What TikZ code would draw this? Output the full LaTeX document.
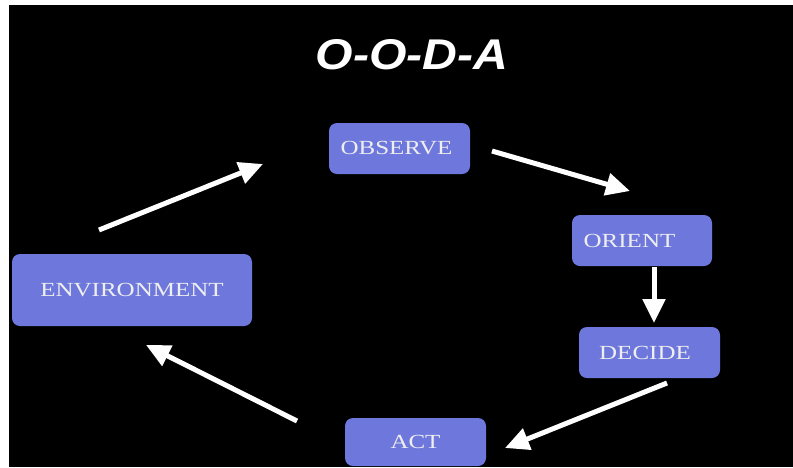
\documentclass[tikz,border=0pt]{standalone}
\usepackage{fontspec}
\usetikzlibrary{arrows.meta}
\newfontfamily\titlefont[FakeStretch=1.12]{Liberation Sans}
\newfontfamily\boxfont[FakeStretch=1.25]{Liberation Serif}
\definecolor{boxblue}{RGB}{110,120,220}
\definecolor{boxtext}{RGB}{238,238,238}
\tikzset{
  box/.style={draw=none, fill=boxblue, rounded corners=8pt, inner sep=0pt,
    text=boxtext, font=\boxfont\fontsize{20}{24}\selectfont},
  flow/.style={draw=white, line width=5pt,
    -{Triangle[length=24pt,width=22pt]}}
}
\begin{document}
\begin{tikzpicture}[x=1pt,y=-1pt]
\useasboundingbox (0,0) rectangle (793,467);
\fill[white] (0,0) rectangle (793,467);
\fill[black] (9,5) rectangle (793,467);
\node[text=white, font=\titlefont\bfseries\itshape\fontsize{43}{50}\selectfont] (title) at (412,55) {O-O-D-A};
\node[box, minimum width=141pt, minimum height=51pt] (obs) at (399.5,148.5) {OBSERVE\hspace*{6pt}};
\node[box, minimum width=140pt, minimum height=51pt] (ori) at (642,240.5) {ORIENT\hspace*{25pt}};
\node[box, minimum width=141pt, minimum height=51pt] (dec) at (649.5,352.5) {DECIDE\hspace*{9pt}};
\node[box, minimum width=141pt, minimum height=48pt] (act) at (415.5,442) {ACT};
\node[box, minimum width=240pt, minimum height=72pt] (env) at (132,290) {ENVIRONMENT};
\coordinate (e1) at (99,230);
\coordinate (o1) at (263,164);
\coordinate (o2) at (492,151);
\coordinate (r1) at (630,191);
\coordinate (r2) at (654,267);
\coordinate (d1) at (654,323);
\coordinate (d2) at (667,383);
\coordinate (a1) at (505,448);
\coordinate (a2) at (297,421);
\coordinate (e2) at (146,345);
\draw[flow] (e1) -- (o1);
\draw[flow] (o2) -- (r1);
\draw[flow] (r2) -- (d1);
\draw[flow] (d2) -- (a1);
\draw[flow] (a2) -- (e2);
\end{tikzpicture}
\end{document}
